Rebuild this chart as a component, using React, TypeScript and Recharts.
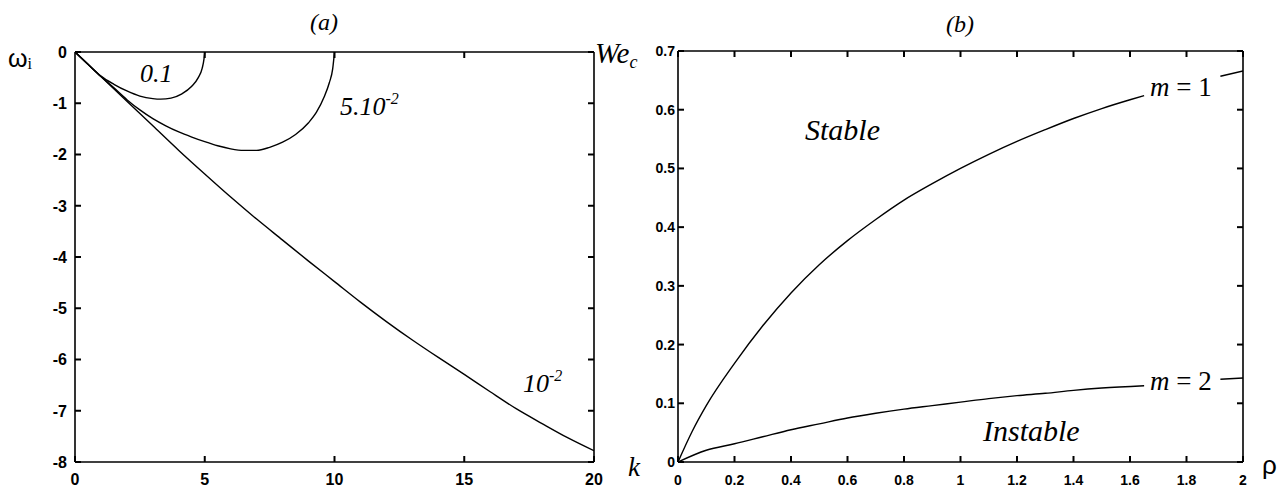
import React from 'react';
import { LineChart, Line, XAxis, YAxis } from 'recharts';

type Pt = { x: number; y: number };
const toPts = (a: number[][]): Pt[] => a.map(([x, y]) => ({ x, y }));

// (a) omega_i against k, one curve per parameter value
const curve01 = toPts([
  [0, 0], [0.5, -0.24], [1, -0.47], [1.5, -0.63], [2, -0.76], [2.5, -0.86], [3, -0.91],
  [3.3, -0.92], [3.7, -0.9], [4.1, -0.82], [4.5, -0.67], [4.75, -0.5], [4.9, -0.32],
  [4.97, -0.14], [5, 0],
]);
const curve005 = toPts([
  [0, 0], [0.5, -0.24], [1, -0.48], [1.5, -0.7], [2, -0.93], [2.5, -1.13], [3, -1.3],
  [3.5, -1.44], [4, -1.56], [4.5, -1.66], [5, -1.75], [5.5, -1.83], [6, -1.89], [6.5, -1.92],
  [7, -1.92], [7.5, -1.86], [8, -1.76], [8.5, -1.61], [9, -1.38], [9.3, -1.18], [9.6, -0.88],
  [9.8, -0.6], [9.93, -0.33], [10, 0],
]);
const curve001 = toPts([
  [0, 0], [1, -0.48], [2, -0.96], [3, -1.44], [4, -1.92], [5, -2.38], [6, -2.83], [7, -3.26],
  [8, -3.67], [9, -4.08], [10, -4.48], [11, -4.88], [12, -5.26], [13, -5.62], [14, -5.96],
  [15, -6.29], [16, -6.63], [17, -6.96], [18, -7.25], [19, -7.53], [20, -7.78],
]);
const kTicks = [0, 5, 10, 15, 20];
const kTopTicks = [5, 10, 15];
const omegaTicks = [0, -1, -2, -3, -4, -5, -6, -7, -8];

// (b) critical Weber number against rho (lines broken where the labels sit)
const m1Curve = toPts([
  [0, 0], [0.05, 0.052], [0.1, 0.096], [0.2, 0.168], [0.3, 0.232], [0.4, 0.288], [0.5, 0.336],
  [0.6, 0.377], [0.7, 0.413], [0.8, 0.446], [0.9, 0.474], [1, 0.5], [1.1, 0.524], [1.2, 0.546],
  [1.3, 0.566], [1.4, 0.585], [1.5, 0.602], [1.6, 0.617], [1.65, 0.624],
]);
const m1Tail = toPts([[1.92, 0.657], [2, 0.666]]);
const m2Curve = toPts([
  [0, 0], [0.1, 0.02], [0.2, 0.031], [0.3, 0.043], [0.4, 0.055], [0.5, 0.065], [0.6, 0.075],
  [0.7, 0.083], [0.8, 0.09], [0.9, 0.096], [1, 0.102], [1.1, 0.108], [1.2, 0.113], [1.3, 0.117],
  [1.4, 0.122], [1.5, 0.126], [1.65, 0.13],
]);
const m2Tail = toPts([[1.92, 0.141], [2, 0.143]]);
const rhoTicks = [0, 0.2, 0.4, 0.6, 0.8, 1, 1.2, 1.4, 1.6, 1.8, 2];
const weTicks = [0, 0.1, 0.2, 0.3, 0.4, 0.5, 0.6, 0.7];

const axisLine = { stroke: '#000', strokeWidth: 1.6 };
const serif = '"Liberation Serif", "Times New Roman", serif';
const sans = '"Liberation Sans", Arial, sans-serif';

type Side = 'bottom' | 'top' | 'left' | 'right';
type LabelStyle = { fontSize: number; fontWeight?: string; gap: number };

// ticks point into the plot box; only bottom/left ones carry a label
const makeTick = (side: Side, label?: LabelStyle) => (props: any) => {
  const { x, y, payload } = props;
  const len = 6;
  const dx = side === 'left' ? len : side === 'right' ? -len : 0;
  const dy = side === 'bottom' ? -len : side === 'top' ? len : 0;
  let text = null;
  if (label) {
    const common = { fill: '#000', fontSize: label.fontSize, fontFamily: sans, fontWeight: label.fontWeight || 'normal' };
    text = side === 'bottom'
      ? <text x={x} y={y + label.gap} dy="0.71em" textAnchor="middle" {...common}>{String(payload.value)}</text>
      : <text x={x - label.gap} y={y} dy="0.36em" textAnchor="end" {...common}>{String(payload.value)}</text>;
  }
  return (
    <g>
      <line x1={x} y1={y} x2={x + dx} y2={y + dy} stroke="#000" strokeWidth={2} />
      {text}
    </g>
  );
};

const curve = (data: Pt[], key: string) => (
  <Line
    key={key}
    data={data}
    dataKey="y"
    xAxisId="b"
    yAxisId="l"
    type="monotone"
    stroke="#000"
    strokeWidth={1.4}
    dot={false}
    activeDot={false}
    isAnimationActive={false}
  />
);

const leftLab: LabelStyle = { fontSize: 16, fontWeight: 'bold', gap: 8 };
const leftXLab: LabelStyle = { fontSize: 16, fontWeight: 'bold', gap: 12 };
const rightLab: LabelStyle = { fontSize: 14, fontWeight: 'bold', gap: 3 };
const rightXLab: LabelStyle = { fontSize: 14, fontWeight: 'bold', gap: 13 };

export default function App() {
  return (
    <div style={{ position: 'absolute', left: 0, top: 0, width: 1282, height: 489, background: '#fff', overflow: 'hidden' }}>
      <div style={{ position: 'absolute', left: 0, top: 0 }}>
        <LineChart width={640} height={489} margin={{ top: 32, right: 26, bottom: 0, left: 0 }}>
          <XAxis xAxisId="b" dataKey="x" type="number" domain={[0, 20]} ticks={kTicks} allowDataOverflow
            axisLine={axisLine} tickLine={false} tickSize={0} tickMargin={0} height={27} tick={makeTick('bottom', leftXLab)} />
          <XAxis xAxisId="t" orientation="top" dataKey="x" type="number" domain={[0, 20]} ticks={kTopTicks} allowDataOverflow
            axisLine={axisLine} tickLine={false} tickSize={0} tickMargin={0} height={20} tick={makeTick('top')} />
          <YAxis yAxisId="l" type="number" domain={[-8, 0]} ticks={omegaTicks} allowDataOverflow
            axisLine={axisLine} tickLine={false} tickSize={0} tickMargin={0} width={75} tick={makeTick('left', leftLab)} />
          <YAxis yAxisId="r" orientation="right" type="number" domain={[-8, 0]} ticks={omegaTicks} allowDataOverflow
            axisLine={axisLine} tickLine={false} tickSize={0} tickMargin={0} width={20} tick={makeTick('right')} />
          {curve(curve01, 'c01')}
          {curve(curve005, 'c005')}
          {curve(curve001, 'c001')}
        </LineChart>
      </div>
      <div style={{ position: 'absolute', left: 640, top: 0 }}>
        <LineChart width={642} height={489} margin={{ top: 31, right: 19, bottom: 0, left: 0 }}>
          <XAxis xAxisId="b" dataKey="x" type="number" domain={[0, 2]} ticks={rhoTicks} allowDataOverflow
            axisLine={axisLine} tickLine={false} tickSize={0} tickMargin={0} height={27} tick={makeTick('bottom', rightXLab)} />
          <XAxis xAxisId="t" orientation="top" dataKey="x" type="number" domain={[0, 2]} ticks={rhoTicks} allowDataOverflow
            axisLine={axisLine} tickLine={false} tickSize={0} tickMargin={0} height={20} tick={makeTick('top')} />
          <YAxis yAxisId="l" type="number" domain={[0, 0.7]} ticks={weTicks} allowDataOverflow
            axisLine={axisLine} tickLine={false} tickSize={0} tickMargin={0} width={38} tick={makeTick('left', rightLab)} />
          <YAxis yAxisId="r" orientation="right" type="number" domain={[0, 0.7]} ticks={weTicks} allowDataOverflow
            axisLine={axisLine} tickLine={false} tickSize={0} tickMargin={0} width={20} tick={makeTick('right')} />
          {curve(m1Curve, 'm1')}
          {curve(m1Tail, 'm1t')}
          {curve(m2Curve, 'm2')}
          {curve(m2Tail, 'm2t')}
        </LineChart>
      </div>
      <svg width={1282} height={489} style={{ position: 'absolute', left: 0, top: 0, pointerEvents: 'none' }}>
        <g fontFamily={serif} fontStyle="italic" fill="#000">
          <text x={324} y={30} fontSize={24} textAnchor="middle">(a)</text>
          <text x={960} y={32} fontSize={24} textAnchor="middle">(b)</text>
          <text x={140} y={82} fontSize={26}>0.1</text>
          <text x={340} y={115} fontSize={26}>5.10<tspan dy={-11} fontSize={16}>-2</tspan></text>
          <text x={523} y={392} fontSize={26}>10<tspan dy={-11} fontSize={16}>-2</tspan></text>
          <text x={805} y={140} fontSize={30}>Stable</text>
          <text x={983} y={441} fontSize={30}>Instable</text>
          <text x={595} y={63} fontSize={29}>We<tspan dy={5} fontSize={18}>c</tspan></text>
          <text x={628} y={476} fontSize={27}>k</text>
          <text x={1150} y={96} fontSize={27}>m<tspan fontStyle="normal"> = 1</tspan></text>
          <text x={1150} y={390} fontSize={27}>m<tspan fontStyle="normal"> = 2</tspan></text>
        </g>
        <text x={8} y={67} fontSize={25} fontFamily={sans} fill="#000">ω<tspan fontFamily={serif} fontSize={16} dy={2}>i</tspan></text>
        <text x={1262} y={474} fontSize={26} fontFamily={sans} fill="#000">ρ</text>
      </svg>
    </div>
  );
}
